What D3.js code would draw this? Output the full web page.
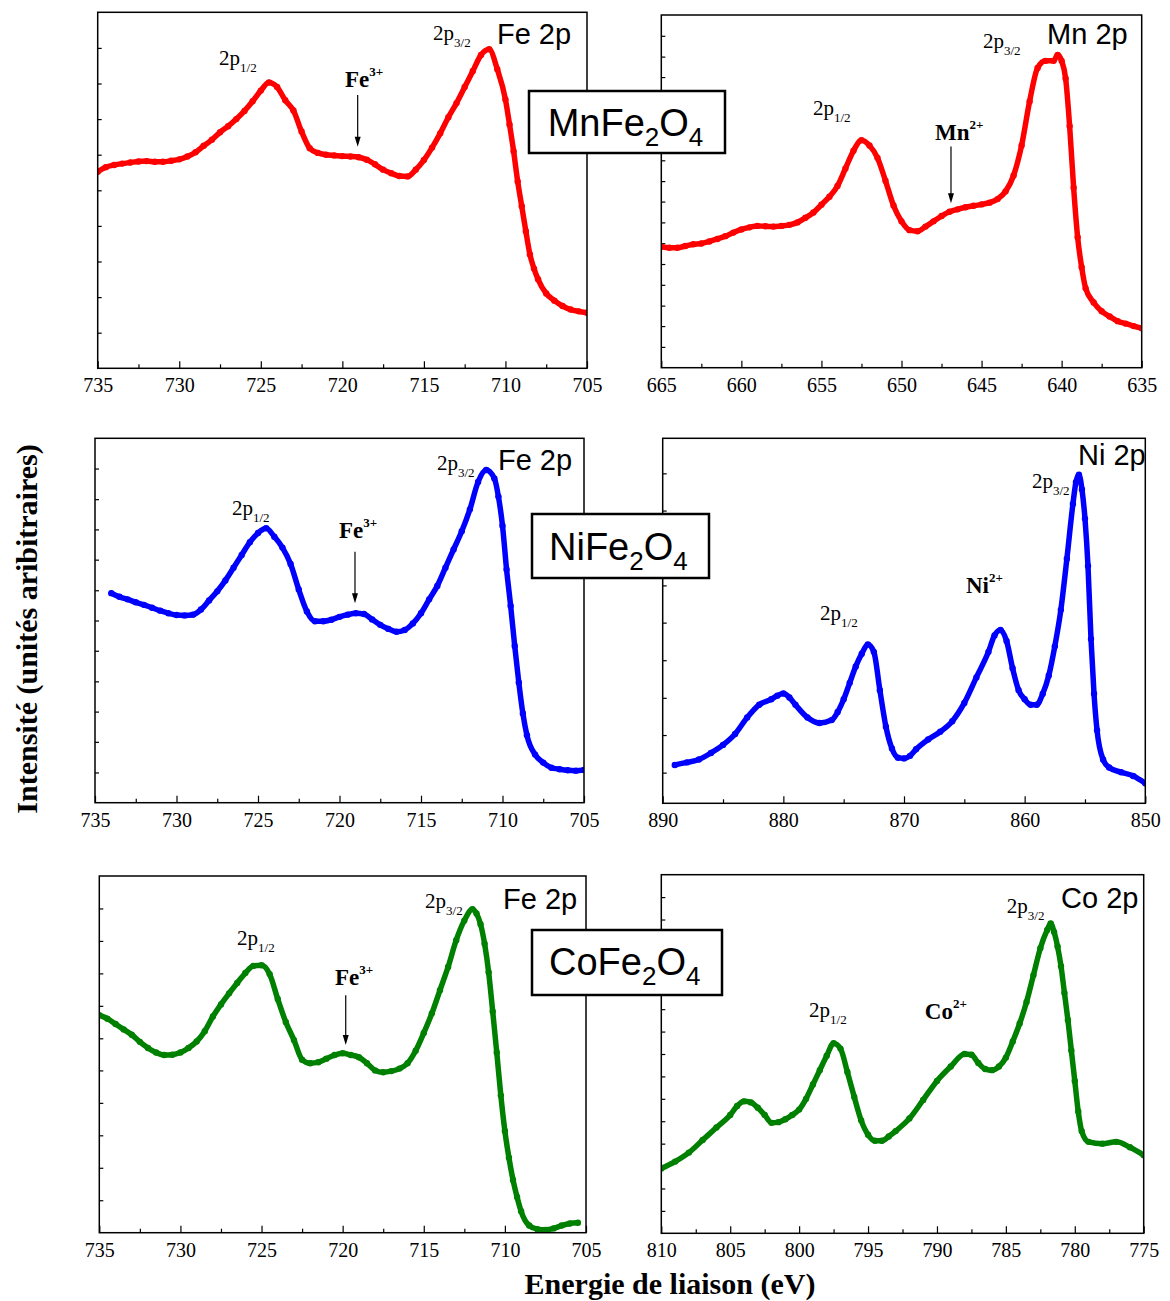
<!DOCTYPE html>
<html><head><meta charset="utf-8">
<script src="https://cdn.jsdelivr.net/npm/d3@7"></script>
<style>body{margin:0;background:#fff} svg{display:block}</style>
</head><body>
<svg id="c" width="1170" height="1301"></svg>
<script>
// ---------- DATA (binding energy eV, intensity a.u. 0-100) ----------
const mnFe2O4_Fe2p = [[735,55.2],[734.5,56.5],[734,57.1],[733.5,57.5],[733,57.8],[732.5,58.1],[732,58.2],[731.5,58.0],[731,58.0],[730.5,58.3],[730,58.7],[729.5,59.5],[729,60.7],[728.5,62.5],[728,64.2],[727.5,66.3],[727,68.0],[726.5,70.0],[726,72.3],[725.5,75.0],[725,78.0],[724.5,80.3],[724,79.0],[723.5,75.3],[723,72.4],[722.5,66.5],[722,61.8],[721.5,60.5],[721,60.0],[720.5,59.8],[720,59.6],[719.5,59.5],[719,59.3],[718.5,58.6],[718,57.3],[717.5,55.8],[717,54.8],[716.5,54.0],[716,53.9],[715.5,55.8],[715,58.5],[714.5,62.0],[714,66.0],[713.5,70.5],[713,74.5],[712.5,79.0],[712,83.5],[711.5,88.0],[711,89.6],[710.5,84.0],[710,75.5],[709.75,68.5],[709.5,61.0],[709.25,52.5],[709,45.5],[708.75,38.5],[708.5,32.0],[708.25,28.0],[708,25.0],[707.5,21.0],[707,19.0],[706.5,17.5],[706,16.5],[705.5,16.0],[705,15.6]];
const mnFe2O4_Mn2p = [[665,34.3],[664.5,34.0],[664,34.0],[663.5,34.5],[663,35.0],[662.5,35.2],[662,35.8],[661.5,36.5],[661,37.3],[660.5,38.3],[660,39.2],[659.5,39.8],[659,40.2],[658.5,40.1],[658,40.0],[657.5,40.2],[657,40.5],[656.5,41.2],[656,42.5],[655.5,44.0],[655,46.2],[654.5,48.5],[654,51.5],[653.5,56.5],[653,61.5],[652.5,64.5],[652,63.0],[651.5,59.5],[651,53.0],[650.5,46.0],[650,41.5],[649.5,39.0],[649,38.7],[648.5,40.0],[648,41.5],[647.5,43.0],[647,44.2],[646.5,44.9],[646,45.5],[645.5,45.9],[645,46.3],[644.5,46.8],[644,47.8],[643.5,50.0],[643,54.5],[642.5,63.0],[642,75.5],[641.5,85.0],[641,87.0],[640.5,87.0],[640.25,88.7],[640,87.0],[639.75,82.0],[639.5,68.5],[639.25,51.0],[639,37.0],[638.75,28.5],[638.5,22.5],[638,18.5],[637.5,16.0],[637,14.5],[636.5,13.2],[636,12.5],[635.5,11.8],[635,11.2]];
const niFe2O4_Fe2p = [[734,57.5],[733.5,56.5],[733,55.8],[732.5,55.0],[732,54.3],[731.5,53.5],[731,52.7],[730.5,52.0],[730,51.5],[729.5,51.4],[729,51.6],[728.5,53.0],[728,55.5],[727.5,58.0],[727,61.0],[726.5,64.5],[726,68.0],[725.5,71.5],[725,74.0],[724.5,75.3],[724,73.0],[723.5,70.0],[723,65.5],[722.5,58.5],[722,52.5],[721.5,49.8],[721,49.8],[720.5,50.2],[720,51.0],[719.5,51.6],[719,52.0],[718.5,51.8],[718,50.3],[717.5,48.8],[717,47.7],[716.5,46.9],[716,47.4],[715.5,49.2],[715,52.0],[714.5,55.8],[714,59.5],[713.5,64.5],[713,69.5],[712.5,74.5],[712,80.5],[711.5,88.0],[711,91.3],[710.5,89.0],[710.25,84.0],[710,76.0],[709.75,64.0],[709.5,54.0],[709.25,43.0],[709,33.0],[708.75,24.5],[708.5,18.5],[708,13.2],[707.5,11.0],[707,9.6],[706.5,9.2],[706,8.9],[705.5,8.8],[705,9.0]];
const niFe2O4_Ni2p = [[889,10.5],[888,11.2],[887,12.0],[886,13.8],[885,16.0],[884,19.0],[883,23.5],[882,27.0],[881,28.5],[880.5,29.5],[880,30.1],[879.5,29.0],[879,27.0],[878,23.5],[877,22.0],[876,22.8],[875.5,25.0],[875,28.5],[874.5,33.0],[874,37.5],[873.5,41.0],[873,43.5],[872.5,41.5],[872,31.0],[871.5,21.0],[871,15.0],[870.5,12.5],[870,12.3],[869.5,13.0],[869,14.8],[868,17.5],[867,19.6],[866,22.5],[865,27.5],[864,34.5],[863,41.5],[862.5,46.0],[862,47.5],[861.5,44.5],[861,37.0],[860.5,31.0],[860,28.5],[859.5,27.0],[859,27.0],[858.5,30.0],[858,35.0],[857.5,43.0],[857,53.0],[856.5,67.0],[856,82.0],[855.75,88.0],[855.5,90.0],[855.25,86.0],[855,78.0],[854.75,65.0],[854.5,45.0],[854.25,30.0],[854,20.0],[853.5,12.0],[853,9.8],[852,8.5],[851,7.5],[850,5.5]];
const coFe2O4_Fe2p = [[735,61.0],[734.5,60.0],[734,58.5],[733.5,57.0],[733,55.5],[732.5,53.5],[732,51.8],[731.5,50.5],[731,49.8],[730.5,49.9],[730,50.5],[729.5,51.8],[729,53.6],[728.5,56.5],[728,60.6],[727.5,64.0],[727,67.1],[726.5,70.0],[726,72.8],[725.5,74.8],[725,75.0],[724.5,72.5],[724,65.5],[723.5,59.0],[723,54.0],[722.5,48.5],[722,47.5],[721.5,47.8],[721,48.8],[720.5,49.8],[720,50.3],[719.5,49.8],[719,49.2],[718.5,47.5],[718,45.5],[717.5,45.0],[717,45.3],[716.5,46.0],[716,47.5],[715.5,51.0],[715,56.0],[714.5,61.5],[714,68.0],[713.5,74.5],[713,82.0],[712.5,87.5],[712,90.7],[711.75,89.5],[711.5,86.5],[711.25,81.0],[711,73.0],[710.75,62.0],[710.5,50.5],[710.25,38.5],[710,28.5],[709.75,21.0],[709.5,14.8],[709.25,10.0],[709,6.0],[708.5,2.0],[708,1.0],[707.5,0.8],[707,1.2],[706.5,2.0],[706,2.6],[705.5,2.8]];
const coFe2O4_Co2p = [[810,18.1],[809,20.0],[808,22.5],[807,26.0],[806,29.5],[805,33.0],[804.5,35.5],[804,36.8],[803.5,36.5],[803,35.0],[802.5,33.0],[802,30.8],[801.5,31.0],[801,31.8],[800.5,33.0],[800,34.5],[799.5,37.5],[799,41.5],[798.5,45.5],[798,49.5],[797.5,53.0],[797,51.5],[796.5,45.0],[796,38.0],[795.5,31.5],[795,27.5],[794.5,25.8],[794,25.8],[793.5,27.0],[793,28.5],[792,32.0],[791,37.2],[790,42.5],[789,46.5],[788,50.0],[787.5,49.8],[787,47.5],[786.5,45.8],[786,45.5],[785.5,46.5],[785,49.0],[784.5,53.5],[784,58.5],[783.5,64.5],[783,72.0],[782.5,79.5],[782,84.6],[781.75,86.4],[781.5,84.0],[781.25,80.0],[781,74.5],[780.75,67.0],[780.5,59.5],[780.25,51.0],[780,42.5],[779.75,34.0],[779.5,28.5],[779,25.5],[778,25.0],[777,25.5],[776,24.0],[775,21.8]];

// tick values
const feMajor = [735,730,725,720,715,710,705];
const feMinor = [732.5,727.5,722.5,717.5,712.5,707.5];
const mnMajor = [665,660,655,650,645,640,635];
const mnMinor = [662.5,657.5,652.5,647.5,642.5,637.5];
const niMajor = [890,880,870,860,850];
const niMinor = [885,875,865,855];
const coMajor = [810,805,800,795,790,785,780,775];
const coMinor = [807.5,802.5,797.5,792.5,787.5,782.5,777.5];
const yTicks1 = [10,20,30,40,50,60,70,80,90];
const yTicks2 = [5.9,11.8,17.6,23.5,29.4,35.3,41.2,47.1,52.9,58.8,64.7,70.6,76.5,82.4,88.2,94.1];
const yTicks3 = [8.3,16.7,25,33.3,41.7,50,58.3,66.7,75,83.3,91.7];
const yTicks4 = [8.4,18.7,28.9,39.2,49.5,59.7,70.0,80.2,90.4];
const yTicks5 = [9.1,18.2,27.3,36.4,45.5,54.5,63.6,72.7,81.8,90.9];
const yTicks6 = [6.25,12.5,18.75,25,31.25,37.5,43.75,50,56.25,62.5,68.75,75,81.25,87.5,93.75];

const xTitle = "Energie de liaison (eV)";
const yTitle = "Intensité (unités aribitraires)";

// ---------- LAYOUT ----------
const SERIF = "'Liberation Serif','Times New Roman',Times,serif";
const SANS = "'Liberation Sans',Arial,Helvetica,sans-serif";
const RED = '#ff0000', BLUE = '#0000ff', GREEN = '#008000';

const panels = [
  {data: mnFe2O4_Fe2p, color: RED, box: [97.7, 12.3, 587, 368.3], dom: [735,705], major: feMajor, minor: feMinor, yt: yTicks1,
   notes: [{t:'peak', s:'1/2', e:727.56, v:85.2}, {t:'ion', a:'Fe', s:'3+', e:719.84, v:78.9}, {t:'arrow', e:719.06, v1:76.8, v2:62.2},
           {t:'peak', s:'3/2', e:714.44, v:92.2}, {t:'title', a:'Fe 2p', e:710.52, v:91.0}]},
  {data: mnFe2O4_Mn2p, color: RED, box: [661.3, 15, 1141.7, 367.7], dom: [665,635], major: mnMajor, minor: mnMinor, yt: yTicks2,
   notes: [{t:'peak', s:'1/2', e:655.53, v:71.6}, {t:'ion', a:'Mn', s:'2+', e:647.91, v:64.6}, {t:'arrow', e:646.91, v1:62.7, v2:46.6},
           {t:'peak', s:'3/2', e:644.91, v:90.6}, {t:'title', a:'Mn 2p', e:640.91, v:91.8}]},
  {data: niFe2O4_Fe2p, color: BLUE, box: [95, 438.3, 584, 802.7], dom: [735,705], major: feMajor, minor: feMinor, yt: yTicks3,
   notes: [{t:'peak', s:'1/2', e:726.6, v:78.9}, {t:'ion', a:'Fe', s:'3+', e:720.03, v:72.6}, {t:'arrow', e:719.05, v1:68.9, v2:54.7},
           {t:'peak', s:'3/2', e:714.02, v:91.3}, {t:'title', a:'Fe 2p', e:710.28, v:91.3}]},
  {data: niFe2O4_Ni2p, color: BLUE, box: [662.7, 438.3, 1145.3, 803.3], dom: [890,850], major: niMajor, minor: niMinor, yt: yTicks4,
   notes: [{t:'peak', s:'1/2', e:876.96, v:50.2}, {t:'ion', a:'Ni', s:'2+', e:864.86, v:57.7},
           {t:'peak', s:'3/2', e:859.39, v:86.4}, {t:'title', a:'Ni 2p', e:855.58, v:92.7}]},
  {data: coFe2O4_Fe2p, color: GREEN, box: [99.3, 876, 586, 1232.7], dom: [735,705], major: feMajor, minor: feMinor, yt: yTicks5,
   notes: [{t:'peak', s:'1/2', e:726.51, v:80.7}, {t:'ion', a:'Fe', s:'3+', e:720.47, v:69.4}, {t:'arrow', e:719.81, v1:66.6, v2:52.6},
           {t:'peak', s:'3/2', e:714.92, v:91.0}, {t:'title', a:'Fe 2p', e:710.11, v:90.8}]},
  {data: coFe2O4_Co2p, color: GREEN, box: [661.3, 874.7, 1143.7, 1233.3], dom: [810,775], major: coMajor, minor: coMinor, yt: yTicks6,
   notes: [{t:'peak', s:'1/2', e:799.28, v:60.3}, {t:'ion', a:'Co', s:'2+', e:790.88, v:59.8},
           {t:'peak', s:'3/2', e:784.93, v:89.3}, {t:'title', a:'Co 2p', e:781.0, v:90.7}]}
];

const formulas = [
  {parts: ['MnFe','2','O','4'], rect: [529, 91, 196, 62], tx: 547.7, ty: 135.7},
  {parts: ['NiFe','2','O','4'], rect: [532, 514, 177, 64], tx: 549, ty: 560},
  {parts: ['CoFe','2','O','4'], rect: [532, 930, 190, 65], tx: 549, ty: 975}
];

const svg = d3.select('#c');

panels.forEach((p, i) => {
  const [L, T, R, B] = p.box;
  const x = d3.scaleLinear().domain(p.dom).range([L, R]);
  const y = d3.scaleLinear().domain([0, 100]).range([B, T]);
  const g = svg.append('g');

  const styleAxis = a => {
    a.attr('font-family', null).attr('font-size', null);
    a.select('.domain').remove();
    a.selectAll('line').attr('stroke', '#000').attr('stroke-width', 1.2);
    a.selectAll('text').style('font-family', SERIF).style('font-size', '20px').attr('fill', '#000');
  };
  g.append('g').attr('transform', `translate(0,${B})`)
    .call(d3.axisBottom(x).tickValues(p.major).tickSizeInner(-7).tickSizeOuter(0).tickPadding(10).tickFormat(d3.format('d')))
    .call(styleAxis);
  g.append('g').attr('transform', `translate(0,${B})`)
    .call(d3.axisBottom(x).tickValues(p.minor).tickSizeInner(-4).tickSizeOuter(0).tickFormat(''))
    .call(styleAxis);
  g.append('g').attr('transform', `translate(${L},0)`)
    .call(d3.axisLeft(y).tickValues(p.yt).tickSizeInner(-4).tickSizeOuter(0).tickFormat(''))
    .call(styleAxis);

  const clipId = 'clip' + i;
  svg.append('clipPath').attr('id', clipId).append('rect')
    .attr('x', L).attr('y', T).attr('width', R - L).attr('height', B - T);
  const cg = g.append('g').attr('clip-path', `url(#${clipId})`);
  const line = d3.line().x(d => x(d[0])).y(d => y(d[1])).curve(d3.curveMonotoneX);
  cg.append('path').datum(p.data).attr('d', line)
    .attr('fill', 'none').attr('stroke', p.color).attr('stroke-width', 5.5)
    .attr('stroke-linejoin', 'round').attr('stroke-linecap', 'round');
  cg.selectAll('circle').data(p.data).join('circle')
    .attr('cx', d => x(d[0])).attr('cy', d => y(d[1])).attr('r', 3.2).attr('fill', p.color);

  g.append('rect').attr('x', L).attr('y', T).attr('width', R - L).attr('height', B - T)
    .attr('fill', 'none').attr('stroke', '#000').attr('stroke-width', 1.5);

  p.notes.forEach(n => {
    if (n.t === 'peak') {
      const t = g.append('text').attr('x', x(n.e)).attr('y', y(n.v))
        .style('font-family', SERIF).style('font-size', '21px').attr('fill', '#000');
      t.append('tspan').text('2p');
      t.append('tspan').style('font-size', '13px').attr('dy', 7).text(n.s);
    } else if (n.t === 'ion') {
      const t = g.append('text').attr('x', x(n.e)).attr('y', y(n.v))
        .style('font-family', SERIF).style('font-weight', 'bold').style('font-size', '23px').attr('fill', '#000');
      t.append('tspan').text(n.a);
      t.append('tspan').style('font-size', '13px').attr('dy', -11).text(n.s);
    } else if (n.t === 'title') {
      g.append('text').attr('x', x(n.e)).attr('y', y(n.v))
        .style('font-family', SANS).style('font-size', '29px').attr('fill', '#000').text(n.a);
    } else if (n.t === 'arrow') {
      const ax = x(n.e), y1 = y(n.v1), y2 = y(n.v2);
      g.append('line').attr('x1', ax).attr('x2', ax).attr('y1', y1).attr('y2', y2 - 8)
        .attr('stroke', '#000').attr('stroke-width', 1.2);
      g.append('path').attr('d', `M${ax - 3},${y2 - 10}L${ax + 3},${y2 - 10}L${ax},${y2}Z`).attr('fill', '#000');
    }
  });
});

formulas.forEach(f => {
  const [rx, ry, rw, rh] = f.rect;
  svg.append('rect').attr('x', rx).attr('y', ry).attr('width', rw).attr('height', rh)
    .attr('fill', '#fff').attr('stroke', '#000').attr('stroke-width', 2.5);
  const t = svg.append('text').attr('x', f.tx).attr('y', f.ty)
    .style('font-family', SANS).style('font-size', '38px').attr('fill', '#000');
  t.append('tspan').text(f.parts[0]);
  t.append('tspan').style('font-size', '26px').attr('dy', 10).text(f.parts[1]);
  t.append('tspan').attr('dy', -10).text(f.parts[2]);
  t.append('tspan').style('font-size', '26px').attr('dy', 10).text(f.parts[3]);
});

svg.append('text').attr('transform', 'translate(37,629) rotate(-90)')
  .attr('text-anchor', 'middle').style('font-family', SERIF).style('font-weight', 'bold')
  .style('font-size', '30px').attr('fill', '#000').text(yTitle);
svg.append('text').attr('x', 670).attr('y', 1294)
  .attr('text-anchor', 'middle').style('font-family', SERIF).style('font-weight', 'bold')
  .style('font-size', '30px').attr('fill', '#000').text(xTitle);
</script>
</body></html>
